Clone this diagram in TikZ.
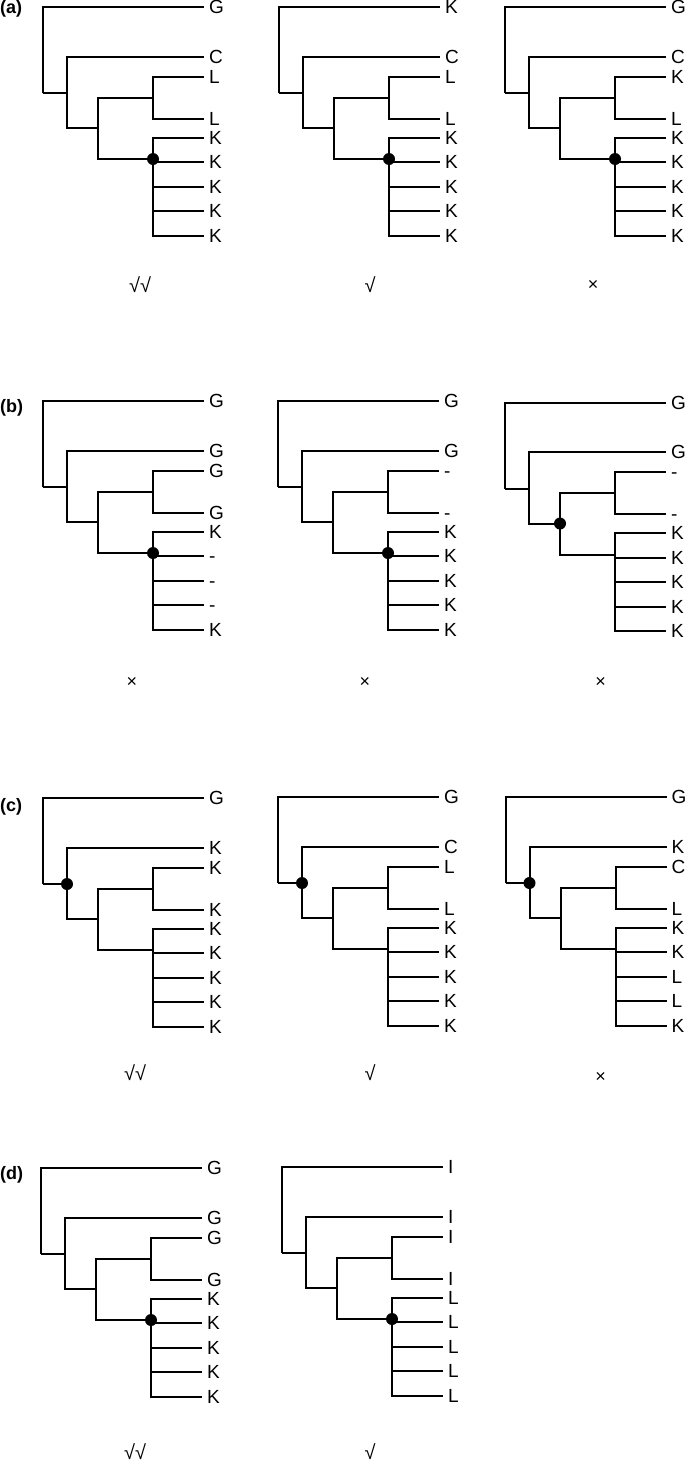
\documentclass[tikz,border=0pt]{standalone}
\usepackage{fontspec}
\setmainfont{Liberation Sans}
\tikzset{
  branch/.style={line width=2pt, line join=miter},
  leaf/.style={anchor=west, inner xsep=5pt, inner ysep=0pt, text height=13.6pt, text depth=0pt, font=\fontsize{19}{19}\selectfont},
  nodedot/.style={circle, fill=black, inner sep=0pt, minimum size=12pt},
  panel/.style={font=\fontsize{18}{18}\selectfont\bfseries, inner sep=0pt},
  verdict/.style={font=\fontsize{20}{20}\selectfont, inner sep=0pt},
  cross/.style={font=\fontsize{18}{18}\selectfont, inner sep=0pt}
}
\newcommand{\phylotree}[5]{%
  \begin{scope}[shift={(#2,#3)}]
    \coordinate (#1-r) at (0,86);
    \coordinate (#1-n2) at (24,86);
    \coordinate (#1-n3) at (55,121);
    \coordinate (#1-i1) at (110,90.5);
    \coordinate (#1-i2) at (110,152);
    \foreach \lab [count=\k] in {#4} {
      \pgfmathsetmacro\yy{{0,49.5,69.5,111.5,130.5,155,179.5,204,228.5}[\k-1]}
      \node[leaf] (#1-\k) at (161,\yy) {\lab};
    }
    \draw[branch] (#1-r) |- (#1-1.west);
    \draw[branch] (#1-r) -- (#1-n2);
    \draw[branch] (#1-n2) |- (#1-2.west);
    \draw[branch] (#1-n2) |- (#1-n3);
    \draw[branch] (#1-n3) |- (#1-i1);
    \draw[branch] (#1-n3) |- (#1-i2);
    \draw[branch] (#1-i1) |- (#1-3.west);
    \draw[branch] (#1-i1) |- (#1-4.west);
    \foreach \k in {5,...,9} { \draw[branch] (#1-i2) |- (#1-\k.west); }
    \node[nodedot] (#1-dot) at (#1-#5) {};
  \end{scope}}
\begin{document}
\begin{tikzpicture}[x=1pt,y=-1pt]
\useasboundingbox (0,0) rectangle (685,1467);
% panel labels
\node[panel, anchor=west] (la) at (0,9) {(a)};
\node[panel, anchor=west] (lb) at (0,408) {(b)};
\node[panel, anchor=west] (lc) at (0,806.5) {(c)};
\node[panel, anchor=west] (ld) at (0,1175) {(d)};
% (a)
\phylotree{a1}{43}{7}{G,C,L,L,K,K,K,K,K}{i2}
\phylotree{a2}{279}{7}{K,C,L,L,K,K,K,K,K}{i2}
\phylotree{a3}{505}{7}{G,C,K,L,K,K,K,K,K}{i2}
\node[verdict] (va1) at (140,285) {√√};
\node[verdict] (va2) at (370,285) {√};
\node[cross] (va3) at (593,285) {×};
% (b)
\phylotree{b1}{43}{401}{G,G,G,G,K,-,-,-,K}{i2}
\phylotree{b2}{278}{401}{G,G,-,-,K,K,K,K,K}{i2}
\phylotree{b3}{505}{402.5}{G,G,-,-,K,K,K,K,K}{n3}
\node[cross] (vb1) at (132,682.5) {×};
\node[cross] (vb2) at (365,682.5) {×};
\node[cross] (vb3) at (600.5,682.5) {×};
% (c)
\phylotree{c1}{43}{798}{G,K,K,K,K,K,K,K,K}{n2}
\phylotree{c2}{278}{797}{G,C,L,L,K,K,K,K,K}{n2}
\phylotree{c3}{505.5}{797}{G,K,C,L,K,K,L,L,K}{n2}
\node[verdict] (vc1) at (135,1073) {√√};
\node[verdict] (vc2) at (370,1073) {√};
\node[cross] (vc3) at (600.5,1077) {×};
% (d)
\phylotree{d1}{41}{1168}{G,G,G,G,K,K,K,K,K}{i2}
\phylotree{d2}{282}{1167}{I,I,I,I,L,L,L,L,L}{i2}
\node[verdict] (vd1) at (135,1452) {√√};
\node[verdict] (vd2) at (370,1452) {√};
\end{tikzpicture}
\end{document}
